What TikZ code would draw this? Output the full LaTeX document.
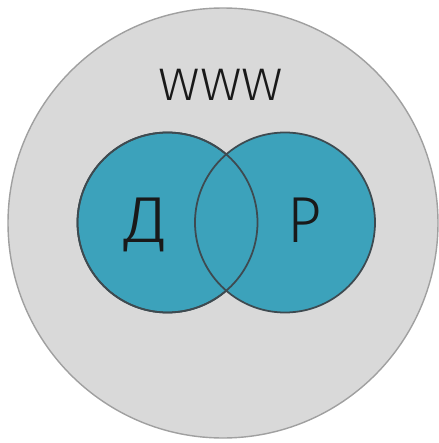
\documentclass[tikz,border=0pt]{standalone}
\usepackage{fontspec}
\setmainfont{Fira Sans Light}
\usepackage{xcolor}
\usetikzlibrary{positioning}

\definecolor{webgrey}{RGB}{217,217,217}
\definecolor{webedge}{RGB}{160,160,160}
\definecolor{setteal}{RGB}{60,162,187}
\definecolor{setedge}{RGB}{62,74,80}

\begin{document}
\begin{tikzpicture}[
    world/.style={circle, fill=webgrey, draw=webedge, line width=0.8pt, minimum size=8.6cm, inner sep=0pt},
    setdisk/.style={circle, fill=setteal, draw=setedge, line width=1pt, minimum size=3.6cm, inner sep=0pt},
    setring/.style={circle, draw=setedge, line width=1pt, minimum size=3.6cm, inner sep=0pt},
    label/.style={anchor=base, text=black!90, inner sep=0pt}
]
\useasboundingbox (0,0) rectangle (8.78,-8.86);

% Universe: the web
\node[world] (www) at (4.46,-4.46) {};
\node[label, font=\fontsize{26}{30}\selectfont, transform shape, xscale=1.12] (www_txt) at (4.42,-2.0) {WWW};

% Two overlapping sets
\node[setdisk] (set_d) at (3.35,-4.45) {};
\node[setdisk] (set_r) at (5.70,-4.45) {};
\node[setring] at (set_d) {};

% Set labels
\node[label, font=\fontsize{37}{40}\selectfont, transform shape, xscale=1.12] (txt_d) at (2.93,-4.84) {Д};
\node[label, font=\fontsize{37}{40}\selectfont, transform shape, xscale=0.92] (txt_r) at (6.09,-4.84) {Р};

\end{tikzpicture}
\end{document}
